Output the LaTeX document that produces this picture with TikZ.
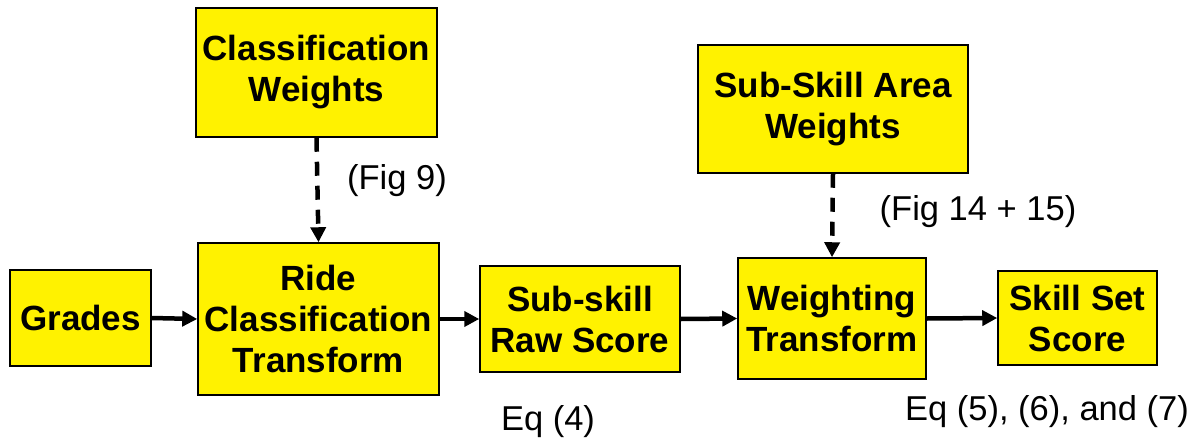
\documentclass[tikz,border=0pt]{standalone}
\usepackage{fontspec}
\setmainfont{Liberation Sans}
\usetikzlibrary{arrows.meta}
\begin{document}
\begin{tikzpicture}[x=1pt,y=-1pt,
  block/.style={draw=black,line width=1.5pt,fill=yellow,inner sep=0pt,
    align=center,font=\fontsize{35}{41}\selectfont\bfseries},
  note/.style={inner sep=0pt,font=\fontsize{34.5}{40}\selectfont},
  flow/.style={line width=4.5pt,-{Triangle[length=15pt,width=15pt]}},
  feed/.style={line width=4.5pt,dash pattern=on 14pt off 10pt,-{Triangle[length=15pt,width=15pt]}}]
\useasboundingbox (0,0) rectangle (1198,444);

% weight sources
\node[block,minimum width=241pt,minimum height=129pt] (cw) at (316.5,72.5) {Classification\\Weights};
\node[block,minimum width=270pt,minimum height=128pt] (sw) at (833,109) {Sub-Skill Area\\Weights};

% main chain
\node[block,minimum width=141pt,minimum height=96pt] (gr) at (80.5,318) {Grades};
\node[block,minimum width=241pt,minimum height=152pt] (rc) at (318.5,319) {Ride\\Classification\\Transform};
\node[block,minimum width=200pt,minimum height=106pt] (rs) at (580,319) {Sub-skill\\Raw Score};
\node[block,minimum width=188pt,minimum height=121pt] (wt) at (832,318.5) {Weighting\\Transform};
\node[block,minimum width=159pt,minimum height=94pt] (ss) at (1077.5,318) {Skill Set\\Score};

% connectors
\draw[flow] (gr.east) -- (rc.west);
\draw[flow] (rc.east) -- (rs.west);
\draw[flow] (rs.east) -- (wt.west);
\draw[flow] (wt.east) -- (ss.west);
\draw[feed] (cw.south) -- (rc.north);
\draw[feed] (sw.south) -- (wt.north);

% references
\node[note] (f9) at (397,181) {(Fig 9)};
\node[note] (f14) at (978,212) {(Fig 14 + 15)};
\node[note] (e4) at (548,422) {Eq (4)};
\node[note] (e5) at (1047,412) {Eq (5), (6), and (7)};
\end{tikzpicture}
\end{document}
